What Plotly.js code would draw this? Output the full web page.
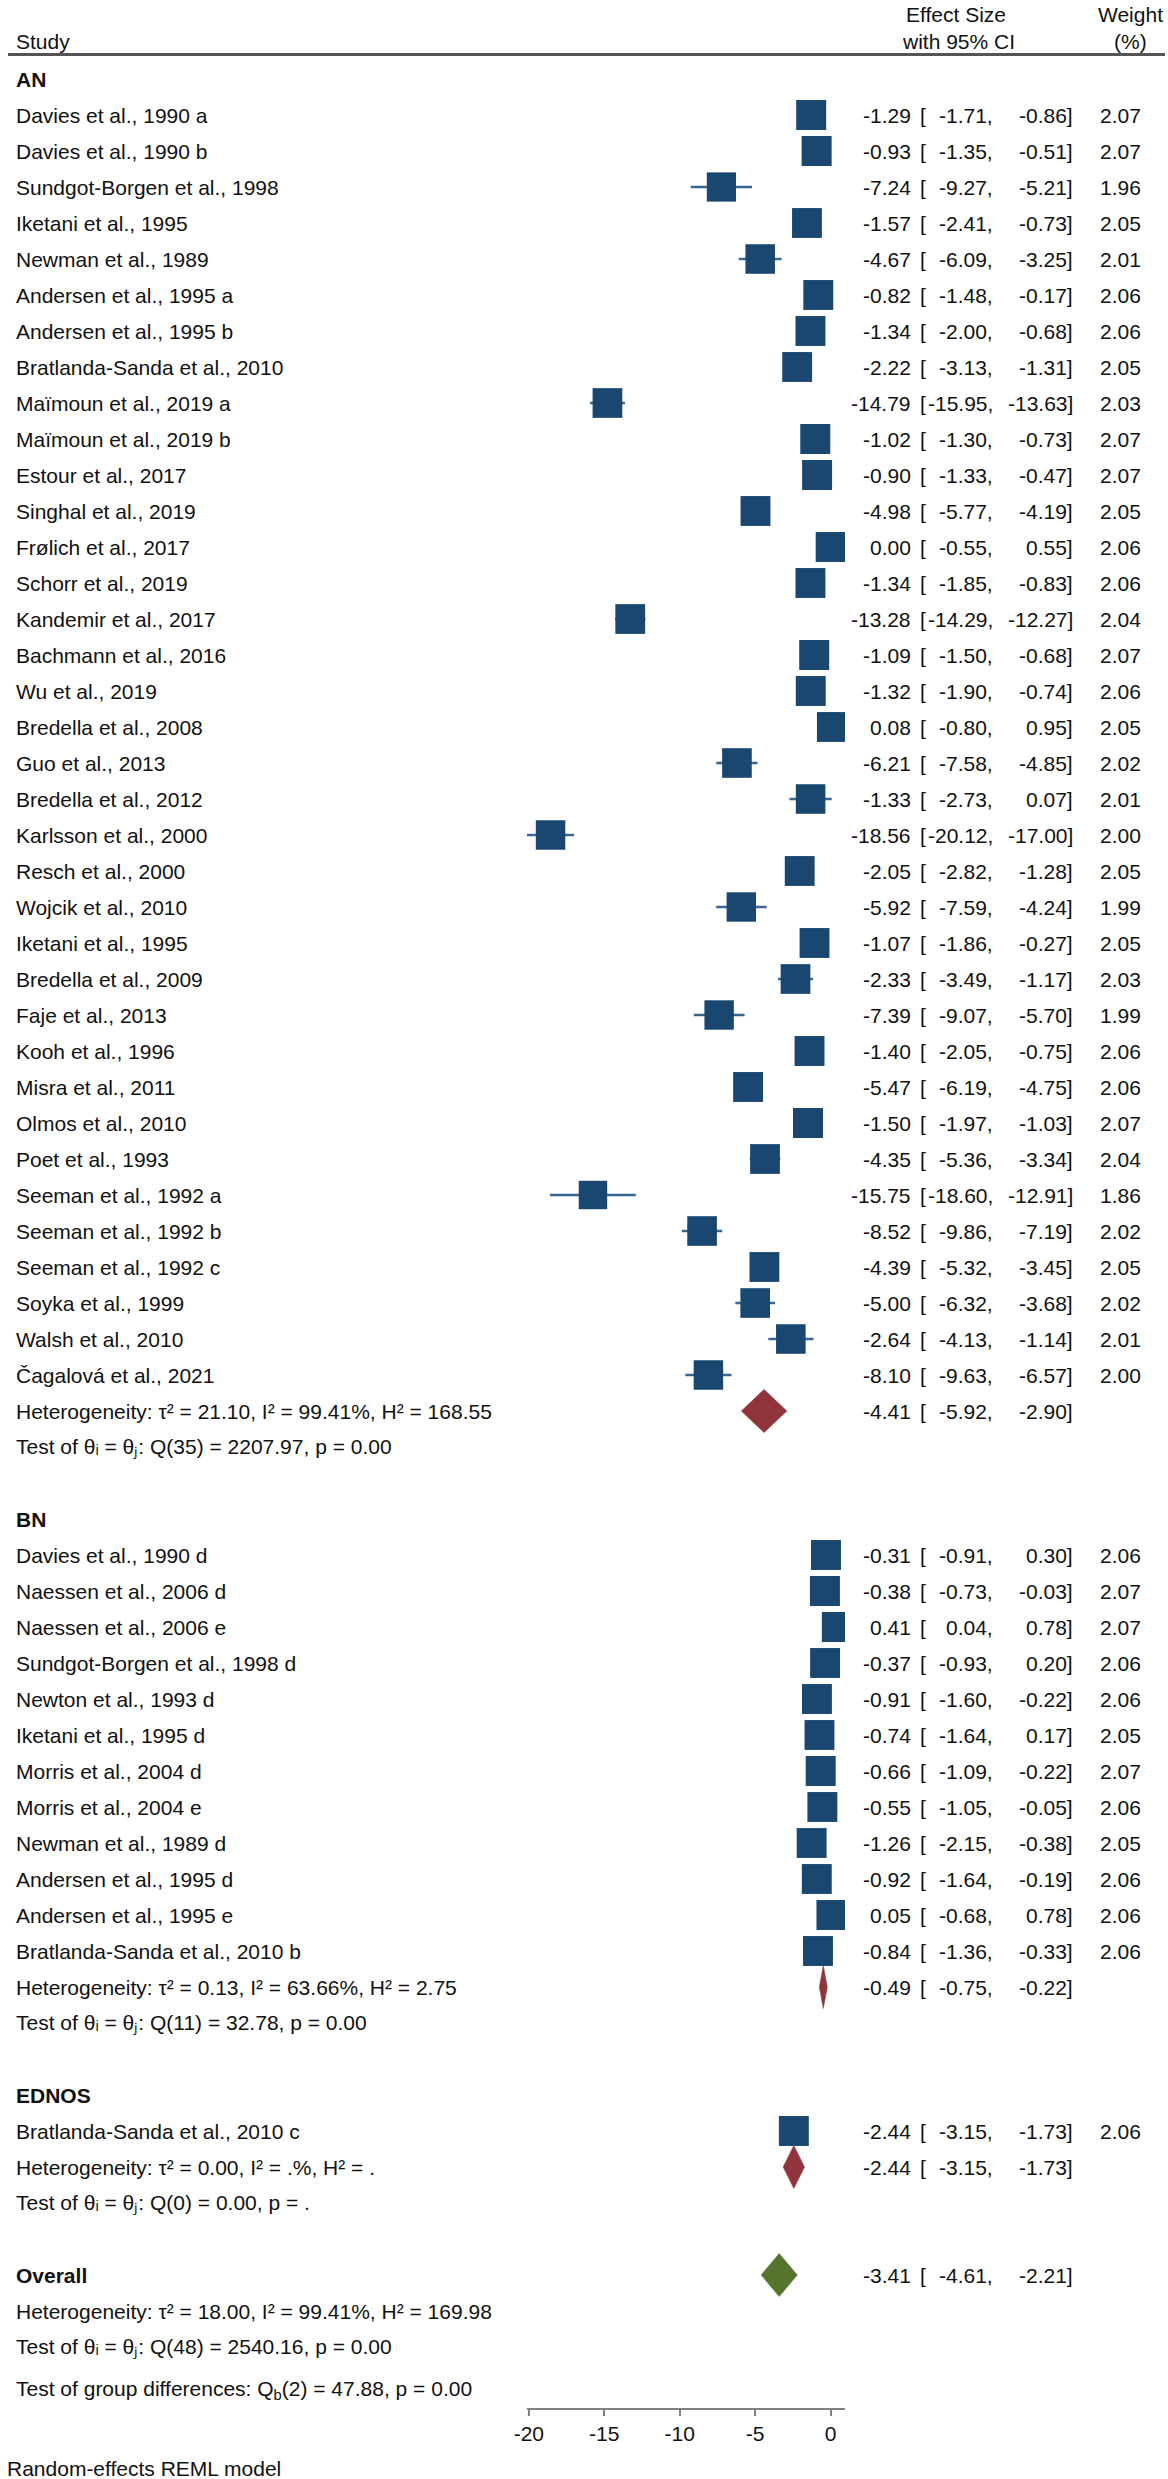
<!DOCTYPE html>
<html>
<head>
<meta charset="utf-8">
<script src="https://cdn.plot.ly/plotly-3.0.1.min.js"></script>
<style>html,body{margin:0;padding:0;background:#fff;}</style>
</head>
<body>
<div id="chart" style="width:1168px;height:2479px;"></div>
<script>
// ---------------- DATA ----------------
const anStudies = ["Davies et al., 1990 a","Davies et al., 1990 b","Sundgot-Borgen et al., 1998","Iketani et al., 1995",
  "Newman et al., 1989","Andersen et al., 1995 a","Andersen et al., 1995 b","Bratlanda-Sanda et al., 2010",
  "Maïmoun et al., 2019 a","Maïmoun et al., 2019 b","Estour et al., 2017","Singhal et al., 2019","Frølich et al., 2017",
  "Schorr et al., 2019","Kandemir et al., 2017","Bachmann et al., 2016","Wu et al., 2019","Bredella et al., 2008",
  "Guo et al., 2013","Bredella et al., 2012","Karlsson et al., 2000","Resch et al., 2000","Wojcik et al., 2010",
  "Iketani et al., 1995","Bredella et al., 2009","Faje et al., 2013","Kooh et al., 1996","Misra et al., 2011",
  "Olmos et al., 2010","Poet et al., 1993","Seeman et al., 1992 a","Seeman et al., 1992 b","Seeman et al., 1992 c",
  "Soyka et al., 1999","Walsh et al., 2010","Čagalová et al., 2021"];
const anES = [-1.29,-0.93,-7.24,-1.57,-4.67,-0.82,-1.34,-2.22,-14.79,-1.02,-0.90,-4.98,0.00,-1.34,-13.28,-1.09,-1.32,0.08,
  -6.21,-1.33,-18.56,-2.05,-5.92,-1.07,-2.33,-7.39,-1.40,-5.47,-1.50,-4.35,-15.75,-8.52,-4.39,-5.00,-2.64,-8.10];
const anLo = [-1.71,-1.35,-9.27,-2.41,-6.09,-1.48,-2.00,-3.13,-15.95,-1.30,-1.33,-5.77,-0.55,-1.85,-14.29,-1.50,-1.90,-0.80,
  -7.58,-2.73,-20.12,-2.82,-7.59,-1.86,-3.49,-9.07,-2.05,-6.19,-1.97,-5.36,-18.60,-9.86,-5.32,-6.32,-4.13,-9.63];
const anHi = [-0.86,-0.51,-5.21,-0.73,-3.25,-0.17,-0.68,-1.31,-13.63,-0.73,-0.47,-4.19,0.55,-0.83,-12.27,-0.68,-0.74,0.95,
  -4.85,0.07,-17.00,-1.28,-4.24,-0.27,-1.17,-5.70,-0.75,-4.75,-1.03,-3.34,-12.91,-7.19,-3.45,-3.68,-1.14,-6.57];
const anW = [2.07,2.07,1.96,2.05,2.01,2.06,2.06,2.05,2.03,2.07,2.07,2.05,2.06,2.06,2.04,2.07,2.06,2.05,
  2.02,2.01,2.00,2.05,1.99,2.05,2.03,1.99,2.06,2.06,2.07,2.04,1.86,2.02,2.05,2.02,2.01,2.00];
const anSummary = [-4.41,-5.92,-2.90];
const anHet = "Heterogeneity: τ² = 21.10, I² = 99.41%, H² = 168.55";
const anTest = "Test of θᵢ = θⱼ: Q(35) = 2207.97, p = 0.00";

const bnStudies = ["Davies et al., 1990 d","Naessen et al., 2006 d","Naessen et al., 2006 e","Sundgot-Borgen et al., 1998 d",
  "Newton et al., 1993 d","Iketani et al., 1995 d","Morris et al., 2004 d","Morris et al., 2004 e","Newman et al., 1989 d",
  "Andersen et al., 1995 d","Andersen et al., 1995 e","Bratlanda-Sanda et al., 2010 b"];
const bnES = [-0.31,-0.38,0.41,-0.37,-0.91,-0.74,-0.66,-0.55,-1.26,-0.92,0.05,-0.84];
const bnLo = [-0.91,-0.73,0.04,-0.93,-1.60,-1.64,-1.09,-1.05,-2.15,-1.64,-0.68,-1.36];
const bnHi = [0.30,-0.03,0.78,0.20,-0.22,0.17,-0.22,-0.05,-0.38,-0.19,0.78,-0.33];
const bnW = [2.06,2.07,2.07,2.06,2.06,2.05,2.07,2.06,2.05,2.06,2.06,2.06];
const bnSummary = [-0.49,-0.75,-0.22];
const bnHet = "Heterogeneity: τ² = 0.13, I² = 63.66%, H² = 2.75";
const bnTest = "Test of θᵢ = θⱼ: Q(11) = 32.78, p = 0.00";

const ednosStudies = ["Bratlanda-Sanda et al., 2010 c"];
const ednosES = [-2.44];
const ednosLo = [-3.15];
const ednosHi = [-1.73];
const ednosW = [2.06];
const ednosSummary = [-2.44,-3.15,-1.73];
const ednosHet = "Heterogeneity: τ² = 0.00, I² = .%, H² = .";
const ednosTest = "Test of θᵢ = θⱼ: Q(0) = 0.00, p = .";

const overallSummary = [-3.41,-4.61,-2.21];
const overallHet = "Heterogeneity: τ² = 18.00, I² = 99.41%, H² = 169.98";
const overallTest = "Test of θᵢ = θⱼ: Q(48) = 2540.16, p = 0.00";
const groupTest = "Test of group differences: Q<sub>b</sub>(2) = 47.88, p = 0.00";
const modelNote = "Random-effects REML model";

const tickVals = [-20,-15,-10,-5,0];
const tickLabels = ["-20","-15","-10","-5","0"];

// ---------------- LAYOUT CONSTANTS ----------------
const W = 1168, H = 2479;
const FONT = "'Liberation Sans', Arial, Helvetica, sans-serif";
const TXT = '#111111';
const FS = 21;
const ROW0 = 115, ROWH = 36, AXIS_PX = 2408;
const yTopRow = (0 - ROW0) / ROWH;
const yBotRow = (AXIS_PX - ROW0) / ROWH;
const pxRow = p => (p - ROW0) / ROWH;
const X_LABEL = 14, X_ES = 913, X_BR = 918, X_LO = 995, X_HI = 1075, X_W = 1143;

const groups = [
  {name:'AN', studies:anStudies, es:anES, lo:anLo, hi:anHi, w:anW, sum:anSummary, het:anHet, test:anTest, start:-1},
  {name:'BN', studies:bnStudies, es:bnES, lo:bnLo, hi:bnHi, w:bnW, sum:bnSummary, het:bnHet, test:bnTest, start:39},
  {name:'EDNOS', studies:ednosStudies, es:ednosES, lo:ednosLo, hi:ednosHi, w:ednosW, sum:ednosSummary, het:ednosHet, test:ednosTest, start:55}
];

const ann = [];
function txt(text, xPx, row, anchor, extra) {
  ann.push(Object.assign({
    x: xPx / W, xref: 'paper', y: row, yref: 'y', text: text, showarrow: false,
    xanchor: anchor, yanchor: 'middle', font: {family: FONT, size: FS, color: TXT}
  }, extra || {}));
}
function ciText(row, es, lo, hi, w) {
  txt(es.toFixed(2), X_ES, row, 'right');
  txt('[', X_BR, row, 'left');
  txt(lo.toFixed(2) + ',', X_LO, row, 'right');
  txt(hi.toFixed(2) + ']', X_HI, row, 'right');
  if (w !== undefined) txt(w.toFixed(2), X_W, row, 'right');
}

// headers
txt('Study', X_LABEL, pxRow(41), 'left');
txt('Effect Size', 956, pxRow(14), 'center');
txt('with 95% CI', 958, pxRow(41), 'center');
txt('Weight', 1130, pxRow(14), 'center');
txt('(%)', 1130, pxRow(41), 'center');

const ciX = [], ciY = [], sqX = [], sqY = [], sqS = [];
const traces = [];
function diamond(row, s, color) {
  traces.push({
    type: 'scatter', mode: 'lines', fill: 'toself', fillcolor: color,
    x: [s[1], s[0], s[2], s[0], s[1]],
    y: [row, row - 0.6, row, row + 0.6, row],
    line: {color: color, width: 0.5}, hoverinfo: 'skip', showlegend: false
  });
}

groups.forEach(g => {
  txt('<b>' + g.name + '</b>', X_LABEL, g.start, 'left');
  g.studies.forEach((s, i) => {
    const r = g.start + 1 + i;
    txt(s, X_LABEL, r, 'left');
    ciText(r, g.es[i], g.lo[i], g.hi[i], g.w[i]);
    ciX.push(g.lo[i], g.hi[i], null); ciY.push(r, r, null);
    sqX.push(g.es[i]); sqY.push(r); sqS.push(30 * Math.sqrt(g.w[i] / 2.07));
  });
  const hr = g.start + 1 + g.studies.length;
  txt(g.het, X_LABEL, hr, 'left');
  ciText(hr, g.sum[0], g.sum[1], g.sum[2]);
  txt(g.test, X_LABEL, hr + 1, 'left');
  diamond(hr, g.sum, '#90353b');
});

// overall
const ovRow = 60;
txt('<b>Overall</b>', X_LABEL, ovRow, 'left');
ciText(ovRow, overallSummary[0], overallSummary[1], overallSummary[2]);
txt(overallHet, X_LABEL, ovRow + 1, 'left');
txt(overallTest, X_LABEL, ovRow + 2, 'left');
diamond(ovRow, overallSummary, '#55752f');
txt(groupTest, X_LABEL, pxRow(2390), 'left');
ann.push({x: 5 / W, xref: 'paper', y: (H - 2468) / H, yref: 'paper', text: modelNote, showarrow: false,
  xanchor: 'left', yanchor: 'middle', font: {family: FONT, size: FS, color: TXT}});

traces.unshift({
  type: 'scatter', mode: 'markers', x: sqX, y: sqY,
  marker: {symbol: 'square', size: sqS, color: '#1a476f', opacity: 1, line: {width: 0}},
  hoverinfo: 'skip', showlegend: false
});
traces.unshift({
  type: 'scatter', mode: 'lines', x: ciX, y: ciY, connectgaps: false,
  line: {color: '#3a6791', width: 2.5}, hoverinfo: 'skip', showlegend: false
});

const shapes = [{
  type: 'line', xref: 'paper', yref: 'y', x0: 8 / W, x1: 1165 / W, y0: pxRow(54.5), y1: pxRow(54.5),
  line: {color: '#555555', width: 3}
}];

const layout = {
  width: W, height: H,
  margin: {l: 0, r: 0, t: 0, b: 0, pad: 0},
  paper_bgcolor: '#ffffff', plot_bgcolor: '#ffffff',
  showlegend: false,
  font: {family: FONT, size: FS, color: TXT},
  xaxis: {
    domain: [527 / W, 845 / W], range: [-20.12, 0.95],
    showline: true, linecolor: '#808080', linewidth: 2,
    ticks: 'outside', ticklen: 6, tickwidth: 2, tickcolor: '#808080',
    tickvals: tickVals, ticktext: tickLabels,
    tickfont: {family: FONT, size: FS, color: TXT},
    showgrid: false, zeroline: false, fixedrange: true
  },
  yaxis: {
    domain: [(H - AXIS_PX) / H, 1], range: [yBotRow, yTopRow],
    visible: false, showgrid: false, zeroline: false, fixedrange: true
  },
  annotations: ann,
  shapes: shapes
};

Plotly.newPlot('chart', traces, layout, {staticPlot: true, displayModeBar: false});
</script>
</body>
</html>
